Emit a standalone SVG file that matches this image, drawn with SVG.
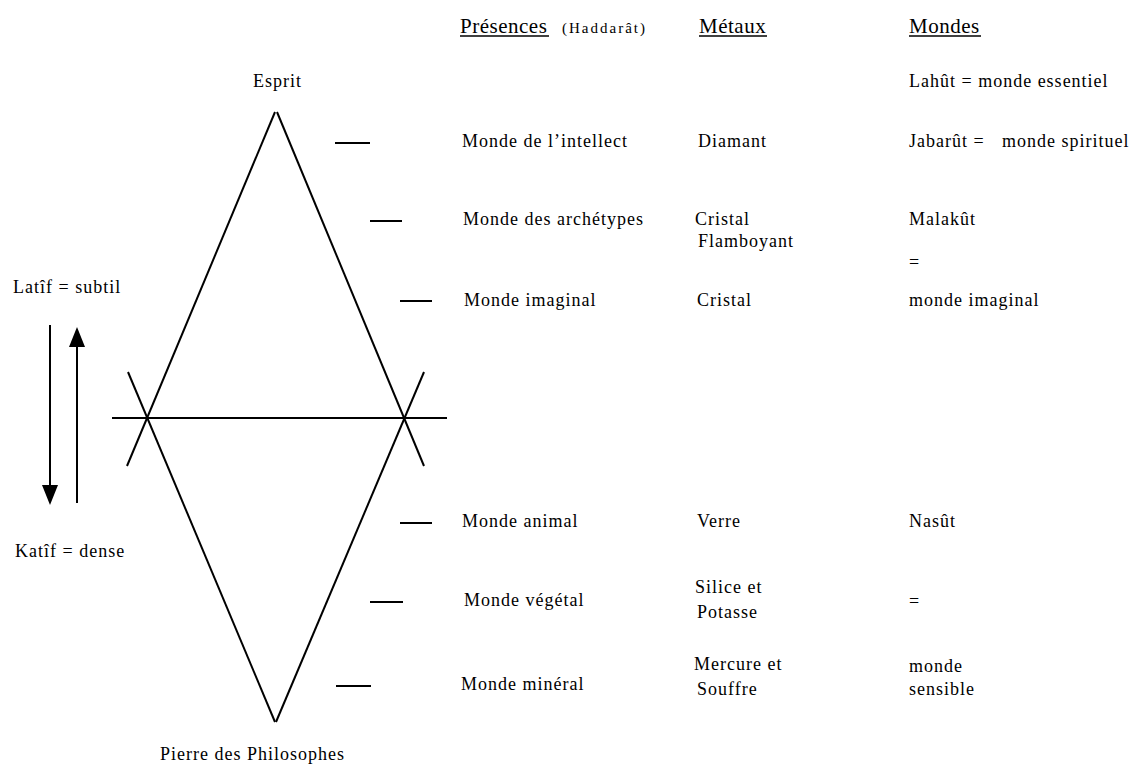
<svg xmlns="http://www.w3.org/2000/svg" width="1135" height="766" viewBox="0 0 1135 766">
<defs>
<style>
text{font-family:"Liberation Serif","Times New Roman",serif;fill:#000;}
.t{font-size:18px;letter-spacing:1px;}
.h{font-size:21px;letter-spacing:0.5px;}
.s{font-size:15px;letter-spacing:2px;}
.ln{stroke:#000;stroke-width:2;fill:none;}
.ul{stroke:#000;stroke-width:1.4;}
</style>
</defs>
<rect x="0" y="0" width="1135" height="766" fill="#fff"/>
<g id="connectors">
<line class="ln" x1="275" y1="112" x2="127" y2="466"/>
<line class="ln" x1="277" y1="112" x2="424" y2="466"/>
<line class="ln" x1="128" y1="372" x2="275" y2="722"/>
<line class="ln" x1="424" y1="372" x2="276" y2="722"/>
<line class="ln" x1="112" y1="418" x2="447" y2="418"/>
<line class="ln" x1="335" y1="143" x2="370" y2="143"/>
<line class="ln" x1="370" y1="221" x2="402" y2="221"/>
<line class="ln" x1="400" y1="301" x2="432" y2="301"/>
<line class="ln" x1="400" y1="523" x2="432" y2="523"/>
<line class="ln" x1="370" y1="602" x2="403" y2="602"/>
<line class="ln" x1="336" y1="686" x2="371" y2="686"/>
<line class="ln" x1="50" y1="325" x2="50" y2="488"/>
<polygon points="42,485 58,485 50,505" fill="#000"/>
<line class="ln" x1="77" y1="503" x2="77" y2="344"/>
<polygon points="69,347 85,347 77,327" fill="#000"/>
</g>
<g id="headers">
<text class="h" x="460" y="33">Présences</text>
<line class="ul" x1="460" y1="36" x2="549" y2="36"/>
<text class="s" x="562" y="33">(Haddarât)</text>
<text class="h" x="699" y="33">Métaux</text>
<line class="ul" x1="699" y1="36" x2="767" y2="36"/>
<text class="h" x="909" y="33">Mondes</text>
<line class="ul" x1="909" y1="36" x2="981" y2="36"/>
</g>
<g id="left-labels">
<text class="t" x="253" y="87">Esprit</text>
<text class="t" x="13" y="293">Latîf = subtil</text>
<text class="t" x="15" y="557">Katîf = dense</text>
<text class="t" x="160" y="760">Pierre des Philosophes</text>
</g>
<g id="presences">
<text class="t" x="462" y="147">Monde de l’intellect</text>
<text class="t" x="463" y="225">Monde des archétypes</text>
<text class="t" x="464" y="306">Monde imaginal</text>
<text class="t" x="462" y="527">Monde animal</text>
<text class="t" x="464" y="606">Monde végétal</text>
<text class="t" x="461" y="690">Monde minéral</text>
</g>
<g id="metaux">
<text class="t" x="698" y="147">Diamant</text>
<text class="t" x="695" y="225">Cristal</text>
<text class="t" x="698" y="247">Flamboyant</text>
<text class="t" x="697" y="306">Cristal</text>
<text class="t" x="697" y="527">Verre</text>
<text class="t" x="695" y="593">Silice et</text>
<text class="t" x="697" y="618">Potasse</text>
<text class="t" x="694" y="670">Mercure et</text>
<text class="t" x="697" y="695">Souffre</text>
</g>
<g id="mondes">
<text class="t" x="909" y="87">Lahût = monde essentiel</text>
<text class="t" x="909" y="147">Jabarût =</text>
<text class="t" x="1002" y="147">monde spirituel</text>
<text class="t" x="909" y="225">Malakût</text>
<text class="t" x="909" y="268">=</text>
<text class="t" x="909" y="306">monde imaginal</text>
<text class="t" x="909" y="527">Nasût</text>
<text class="t" x="909" y="607">=</text>
<text class="t" x="909" y="672">monde</text>
<text class="t" x="909" y="695">sensible</text>
</g>
</svg>
